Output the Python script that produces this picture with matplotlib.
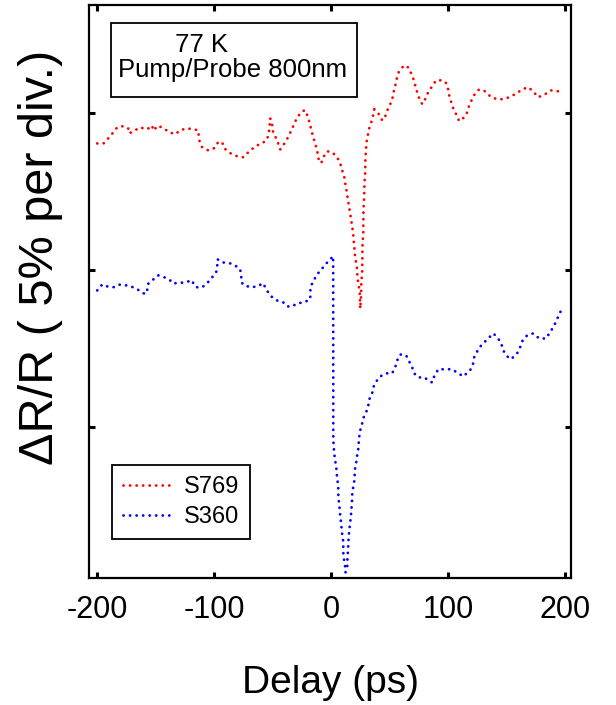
import matplotlib
matplotlib.use("Agg")
import matplotlib.pyplot as plt
from matplotlib.patches import Rectangle

plt.rcParams['font.family'] = ['Liberation Sans', 'DejaVu Sans']

# S769 (red) delay in ps, dR/R in %
s769_x = [-200.0, -194.6, -190.6, -186.3, -182.9, -177.8, -173.5, -172.6, -169.2, -163.2,
          -157.3, -153.0, -152.1, -147.9, -143.6, -137.6, -133.3, -129.1, -123.1, -117.9,
          -113.7, -112.8, -110.3, -105.1, -100.0, -96.6, -93.2, -91.5, -86.3, -80.3,
          -75.2, -69.2, -63.2, -59.0, -54.7, -53.0, -52.1, -50.4, -49.6, -46.2,
          -43.6, -41.0, -36.8, -33.3, -29.1, -24.8, -22.2, -19.7, -16.2, -12.0,
          -11.1, -8.5, -6.8, -3.4, 0.9, 5.1, 7.7, 9.4, 11.1, 12.0,
          12.8, 13.7, 14.5, 16.2, 17.1, 17.9, 18.8, 19.0, 19.7, 19.9,
          20.5, 21.4, 22.2, 22.4, 23.1, 23.9, 24.6, 24.8, 25.6, 25.7,
          26.5, 26.6, 26.7, 27.4, 27.5, 27.6, 28.2, 28.4, 29.1, 29.2,
          29.9, 30.5, 31.6, 32.5, 34.2, 35.9, 36.8, 40.2, 43.6, 45.3,
          48.7, 51.3, 53.0, 53.8, 55.6, 56.4, 58.1, 62.4, 65.8, 68.4,
          70.1, 71.8, 73.5, 75.2, 77.8, 80.3, 82.9, 86.3, 89.7, 94.9,
          98.3, 100.0, 100.9, 102.6, 104.3, 106.8, 109.4, 113.7, 116.2, 117.9,
          120.5, 123.1, 126.5, 131.6, 136.8, 141.9, 147.0, 152.1, 157.3, 163.2,
          168.4, 172.6, 176.9, 182.9, 188.0, 194.0, 198.3]
s769_y = [14.04, 14.04, 14.20, 14.39, 14.55, 14.59, 14.52, 14.36, 14.43, 14.55,
          14.49, 14.61, 14.45, 14.61, 14.52, 14.39, 14.33, 14.46, 14.52, 14.49,
          14.46, 14.14, 13.92, 13.82, 13.89, 14.08, 14.08, 13.89, 13.73, 13.63,
          13.60, 13.82, 13.98, 14.04, 14.17, 14.46, 14.84, 14.62, 14.39, 14.14,
          13.85, 13.98, 14.24, 14.52, 14.87, 15.06, 15.10, 14.87, 14.36, 13.82,
          13.57, 13.41, 13.60, 13.79, 13.76, 13.60, 13.41, 13.18, 12.99, 12.77,
          12.61, 12.39, 12.20, 11.82, 11.59, 11.40, 11.18, 10.99, 10.80, 10.64,
          10.41, 10.22, 10.03, 9.78, 9.62, 9.43, 9.20, 8.78, 9.20, 9.59,
          9.94, 10.38, 10.73, 11.18, 11.53, 11.94, 12.32, 12.74, 13.12, 13.54,
          13.92, 14.14, 14.36, 14.52, 14.71, 14.94, 15.13, 15.00, 14.78, 14.81,
          15.16, 15.35, 15.57, 15.76, 15.99, 16.18, 16.34, 16.53, 16.46, 16.27,
          16.11, 15.89, 15.67, 15.48, 15.29, 15.45, 15.67, 15.86, 16.05, 16.05,
          15.96, 15.76, 15.57, 15.35, 15.16, 14.97, 14.75, 14.87, 15.03, 15.25,
          15.45, 15.64, 15.76, 15.70, 15.51, 15.45, 15.45, 15.51, 15.61, 15.76,
          15.83, 15.70, 15.51, 15.61, 15.73, 15.70, 15.61]

# S360 (blue)
s360_x = [-200.0, -198.3, -195.7, -191.5, -186.3, -180.3, -175.2, -169.2, -164.1, -159.0,
          -157.3, -157.0, -153.0, -147.9, -142.7, -137.6, -135.9, -130.8, -124.8, -118.8,
          -117.9, -115.4, -110.3, -106.0, -101.7, -98.3, -97.4, -97.2, -92.3, -86.3,
          -81.2, -77.8, -76.9, -76.8, -74.4, -68.4, -63.2, -58.1, -55.6, -51.3,
          -46.2, -41.0, -37.6, -33.3, -29.1, -23.1, -17.9, -17.8, -17.7, -15.4,
          -12.0, -7.7, -3.4, 1.7, 1.8, 2.6, 3.4, 4.3, 5.1, 6.0,
          6.1, 6.8, 7.7, 8.5, 9.4, 10.3, 10.4, 11.1, 12.0, 12.2,
          13.7, 13.8, 14.5, 14.6, 15.4, 16.2, 17.1, 17.9, 18.0, 18.8,
          19.7, 20.5, 21.4, 22.2, 23.1, 23.9, 24.8, 26.5, 27.4, 29.9,
          31.6, 32.5, 35.0, 35.9, 38.5, 41.9, 47.0, 52.1, 54.7, 56.4,
          59.0, 64.1, 66.7, 69.2, 70.9, 74.4, 79.5, 84.6, 86.3, 88.0,
          91.5, 96.6, 102.6, 107.7, 112.8, 118.8, 121.4, 122.2, 124.8, 128.2,
          133.3, 138.5, 141.9, 145.3, 147.0, 150.4, 153.8, 159.0, 161.5, 163.2,
          167.5, 172.6, 177.8, 183.8, 186.3, 189.7, 192.3, 194.9, 197.4]
s360_y = [9.36, 9.43, 9.55, 9.49, 9.46, 9.55, 9.52, 9.46, 9.36, 9.24,
          9.36, 9.55, 9.68, 9.84, 9.78, 9.68, 9.59, 9.59, 9.62, 9.68,
          9.59, 9.46, 9.46, 9.59, 9.78, 9.94, 10.16, 10.35, 10.25, 10.22,
          10.13, 10.03, 9.84, 9.62, 9.52, 9.46, 9.49, 9.59, 9.39, 9.17,
          9.04, 8.98, 8.85, 8.85, 8.95, 8.98, 9.08, 9.27, 9.46, 9.65,
          9.87, 10.06, 10.25, 10.45, 4.59, 4.17, 3.95, 3.73, 3.38, 3.15,
          2.77, 2.58, 2.20, 1.94, 1.59, 1.37, 0.99, 0.76, 0.54, 0.38,
          0.54, 0.76, 1.15, 1.31, 1.72, 1.94, 2.29, 2.71, 2.90, 3.09,
          3.28, 3.73, 3.89, 4.11, 4.30, 4.68, 4.90, 5.13, 5.29, 5.48,
          5.67, 5.89, 6.08, 6.27, 6.46, 6.62, 6.72, 6.72, 6.91, 7.13,
          7.32, 7.29, 7.10, 6.91, 6.72, 6.59, 6.59, 6.46, 6.43, 6.62,
          6.85, 6.85, 6.85, 6.75, 6.62, 6.82, 7.04, 7.23, 7.42, 7.61,
          7.80, 7.99, 7.87, 7.68, 7.45, 7.26, 7.17, 7.36, 7.55, 7.74,
          7.93, 7.99, 7.83, 7.83, 7.99, 8.18, 8.38, 8.60, 8.79]

x_ticks = [-200, -100, 0, 100, 200]
x_ticklabels = ['-200', '-100', '0', '100', '200']
y_ticks = [5, 10, 15]

fig = plt.figure(figsize=(6.16, 7.05), dpi=100)
ax = fig.add_axes([0.1445, 0.180, 0.7825, 0.813])

ls = (0, (0.05, 2.3))
ax.plot(s769_x, s769_y, color='#ff0000', lw=2.0, linestyle=ls, dash_capstyle='round', label='S769')
ax.plot(s360_x, s360_y, color='#0000ff', lw=2.0, linestyle=ls, dash_capstyle='round', label='S360')

ax.set_xlim(-207, 205)
ax.set_ylim(0.2, 18.45)
ax.set_xticks(x_ticks)
ax.set_xticklabels(x_ticklabels)
ax.set_yticks(y_ticks)
ax.set_yticklabels([])
ax.tick_params(direction='in', length=4.3, width=2.2, top=True, right=True,
               labelsize=22, pad=12, colors='black')
for s in ax.spines.values():
    s.set_linewidth(1.6)

ax.set_xlabel('Delay (ps)', fontsize=28, labelpad=29)
ax.set_ylabel('ΔR/R ( 5% per div.)', fontsize=35, labelpad=7)
ax.yaxis.label.set_y(0.56)

ax.add_patch(Rectangle((0.0456, 0.839), 0.510, 0.1296, transform=ax.transAxes,
                       fill=False, edgecolor='black', lw=1.3))
ax.text(0.234, 0.930, '77 K', transform=ax.transAxes, ha='center', va='center', fontsize=18.5)
ax.text(0.297, 0.886, 'Pump/Probe 800nm', transform=ax.transAxes, ha='center', va='center', fontsize=18.5)

leg = ax.legend(loc='upper left', bbox_to_anchor=(0.0477, 0.197), borderaxespad=0,
                fontsize=17, handlelength=2.0, handletextpad=0.6, borderpad=0.45,
                labelspacing=0.35, fancybox=False, edgecolor='black', framealpha=1)
leg.get_frame().set_linewidth(1.3)

fig.savefig('out.png', dpi=100)
